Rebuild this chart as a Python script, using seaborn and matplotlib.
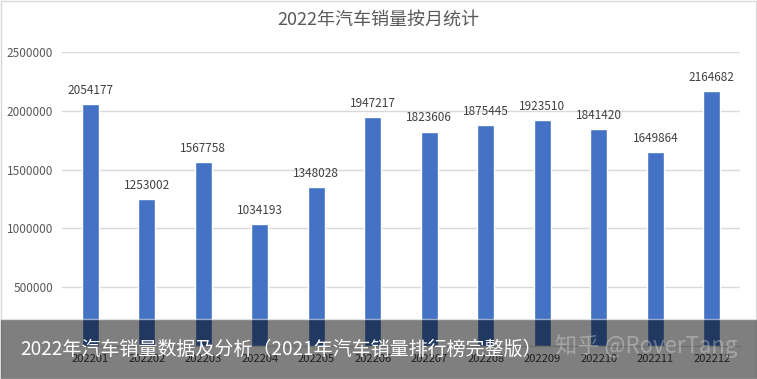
import matplotlib
matplotlib.use("Agg")
import matplotlib.pyplot as plt
import seaborn as sns
import pandas as pd
from matplotlib.patches import Rectangle

# %% Daten
months = ["202201", "202202", "202203", "202204", "202205", "202206",
          "202207", "202208", "202209", "202210", "202211", "202212"]
sales = [2054177, 1253002, 1567758, 1034193, 1348028, 1947217,
         1823606, 1875445, 1923510, 1841420, 1649864, 2164682]
yticks = [500000, 1000000, 1500000, 2000000, 2500000]

df = pd.DataFrame({"Month": months, "Sales": sales})

# %% Plot
sns.set_style("white")
plt.rcParams["font.family"] = ["Noto Sans CJK SC", "DejaVu Sans"]

fig = plt.figure(figsize=(7.57, 3.79), dpi=100)
ax = fig.add_axes([62 / 757, 1 - 346 / 379, 678 / 757, (346 - 52) / 379])

sns.barplot(x="Month", y="Sales", data=df, color="#4472C4", width=0.3,
            saturation=1, ax=ax, zorder=3)

ax.set_ylim(0, 2500000)
ax.set_yticks(yticks)
ax.set_yticklabels([str(v) for v in yticks], fontsize=8.5, color="#595959")
ax.yaxis.grid(True, color="#D9D9D9", linewidth=1, zorder=0)
ax.tick_params(axis="y", length=0, pad=6.5)
ax.tick_params(axis="x", length=0, pad=6, labelsize=8, labelcolor="#404040")
ax.set_xlabel("")
ax.set_ylabel("")
for s in ["top", "right", "left"]:
    ax.spines[s].set_visible(False)
ax.spines["bottom"].set_color("#D9D9D9")

for i, v in enumerate(sales):
    ax.text(i, v + 60000, str(v), ha="center", va="bottom",
            fontsize=8.5, color="#404040")

fig.text(0.5, 1 - 20 / 379, "2022年汽车销量按月统计", ha="center", va="center",
         fontsize=13, color="#595959")

# Rahmen
fig.patches.append(Rectangle((0.001, 0.001), 0.998, 0.997, transform=fig.transFigure,
                             fill=False, edgecolor="#D9D9D9", linewidth=1))

# Overlay-Band unten
fig.patches.append(Rectangle((0, 0), 1, 60 / 379, transform=fig.transFigure,
                             facecolor="black", alpha=0.5, zorder=10))
fig.text(20 / 757, 1 - 349 / 379, "2022年汽车销量数据及分析（2021年汽车销量排行榜完整版）",
         ha="left", va="center", fontsize=13.7, color="white", zorder=11)
fig.text(737 / 757, 1 - 346 / 379, "知乎 @RoverTang", ha="right", va="center",
         fontsize=16, color="white", alpha=0.3, zorder=11)

fig.savefig("out.png", dpi=100)
